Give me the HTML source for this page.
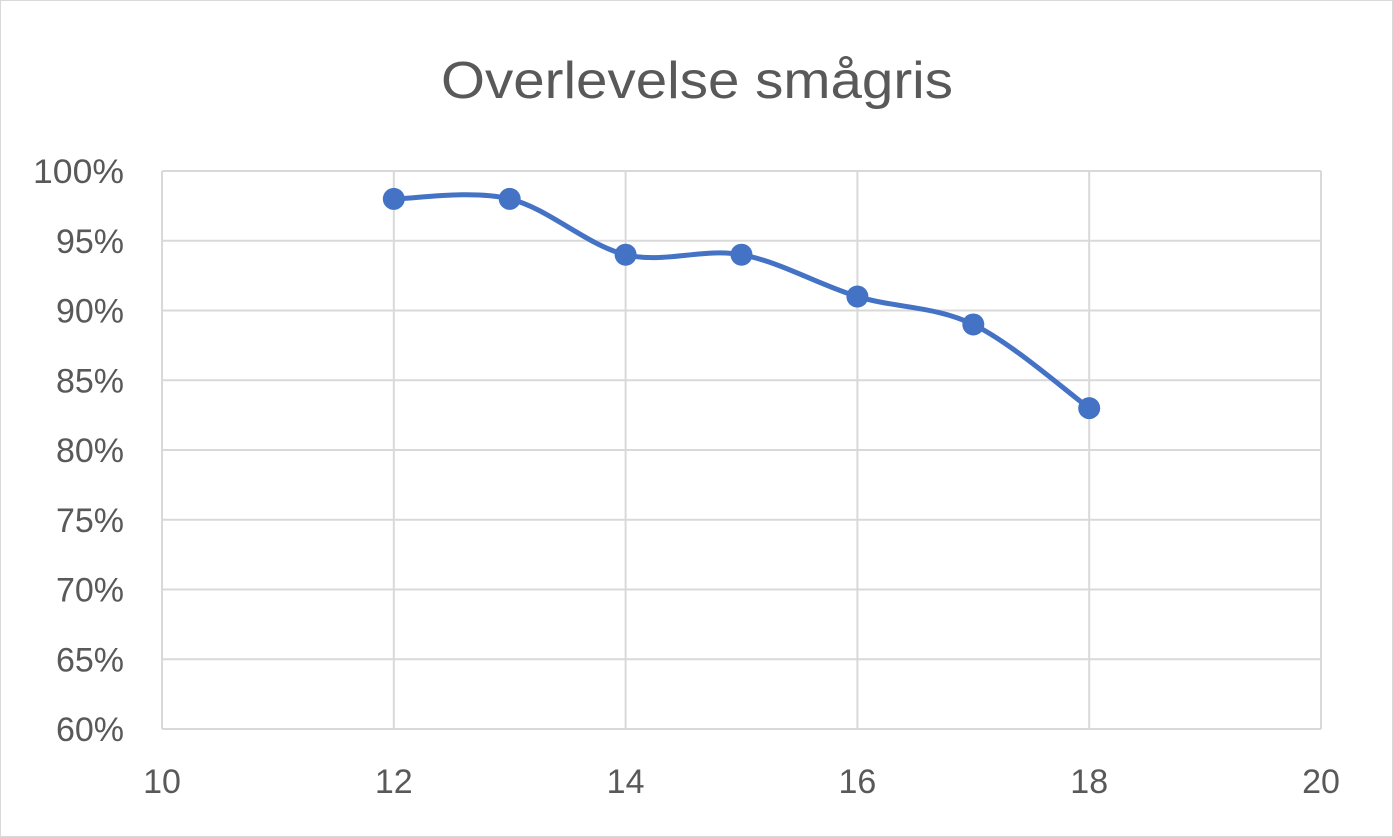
<!DOCTYPE html>
<html><head><meta charset="utf-8"><style>
html,body{margin:0;padding:0;background:#fff;}
svg{display:block;font-family:"Liberation Sans",Calibri,sans-serif;}
</style></head><body>
<svg id="chart" width="1393" height="837" viewBox="0 0 1393 837">
<rect x="0.5" y="0.5" width="1392" height="836" fill="#fff" stroke="#d9d9d9"/>
<text x="697" y="98" text-anchor="middle" font-size="52" textLength="512" lengthAdjust="spacingAndGlyphs" fill="#595959">Overlevelse smågris</text>
<g id="grid"></g><g id="ticks"></g><g id="series"></g>
</svg>
<script>
const xValues=[12,13,14,15,16,17,18];
const yValues=[98,98,94,94,91,89,83];
const xTicks=[10,12,14,16,18,20];
const yTicks=[60,65,70,75,80,85,90,95,100];
const X0=162,X1=1321,Y0=729,Y1=171;
const sx=v=>X0+(v-10)/(20-10)*(X1-X0);
const sy=v=>Y0-(v-60)/(100-60)*(Y0-Y1);
const NS="http://www.w3.org/2000/svg";
const grid=document.getElementById('grid'),ticks=document.getElementById('ticks'),series=document.getElementById('series');
function mk(t,a,p){const e=document.createElementNS(NS,t);for(const k in a)e.setAttribute(k,a[k]);p.appendChild(e);return e;}
yTicks.forEach(v=>{
 const l=mk('line',{x1:X0,x2:X1,y1:sy(v),y2:sy(v),stroke:'#d9d9d9','stroke-width':2},grid);
 
 
 const t=mk('text',{x:124,y:sy(v)+12,'text-anchor':'end','font-size':34,fill:'#595959'},ticks);
 t.textContent=v+'%';
 if(v===100){t.setAttribute('textLength',91);t.setAttribute('lengthAdjust','spacingAndGlyphs');}
 
 
});
xTicks.forEach(v=>{
 const l=mk('line',{x1:sx(v),x2:sx(v),y1:Y1,y2:Y0,stroke:'#d9d9d9','stroke-width':2},grid);
 
 
 const t=mk('text',{x:sx(v),y:793,'text-anchor':'middle','font-size':34,fill:'#595959'},ticks);
 t.textContent=v;
 
 
});
const pts=xValues.map((x,i)=>[sx(x),sy(yValues[i])]);
let d='M'+pts[0][0]+','+pts[0][1];
for(let i=0;i<pts.length-1;i++){
 const p0=pts[i-1]||pts[i],p1=pts[i],p2=pts[i+1],p3=pts[i+2]||p2;
 const c1=[p1[0]+(p2[0]-p0[0])/6,p1[1]+(p2[1]-p0[1])/6];
 const c2=[p2[0]-(p3[0]-p1[0])/6,p2[1]-(p3[1]-p1[1])/6];
 d+=' C'+c1+' '+c2+' '+p2;
}
const path=mk('path',{d:d,fill:'none',stroke:'#4472c4','stroke-width':5,'stroke-linecap':'round'},series);


pts.forEach(p=>{
 const c=mk('circle',{cx:p[0],cy:p[1],r:11,fill:'#4472c4'},series);
 
 
});
</script>
</body></html>
